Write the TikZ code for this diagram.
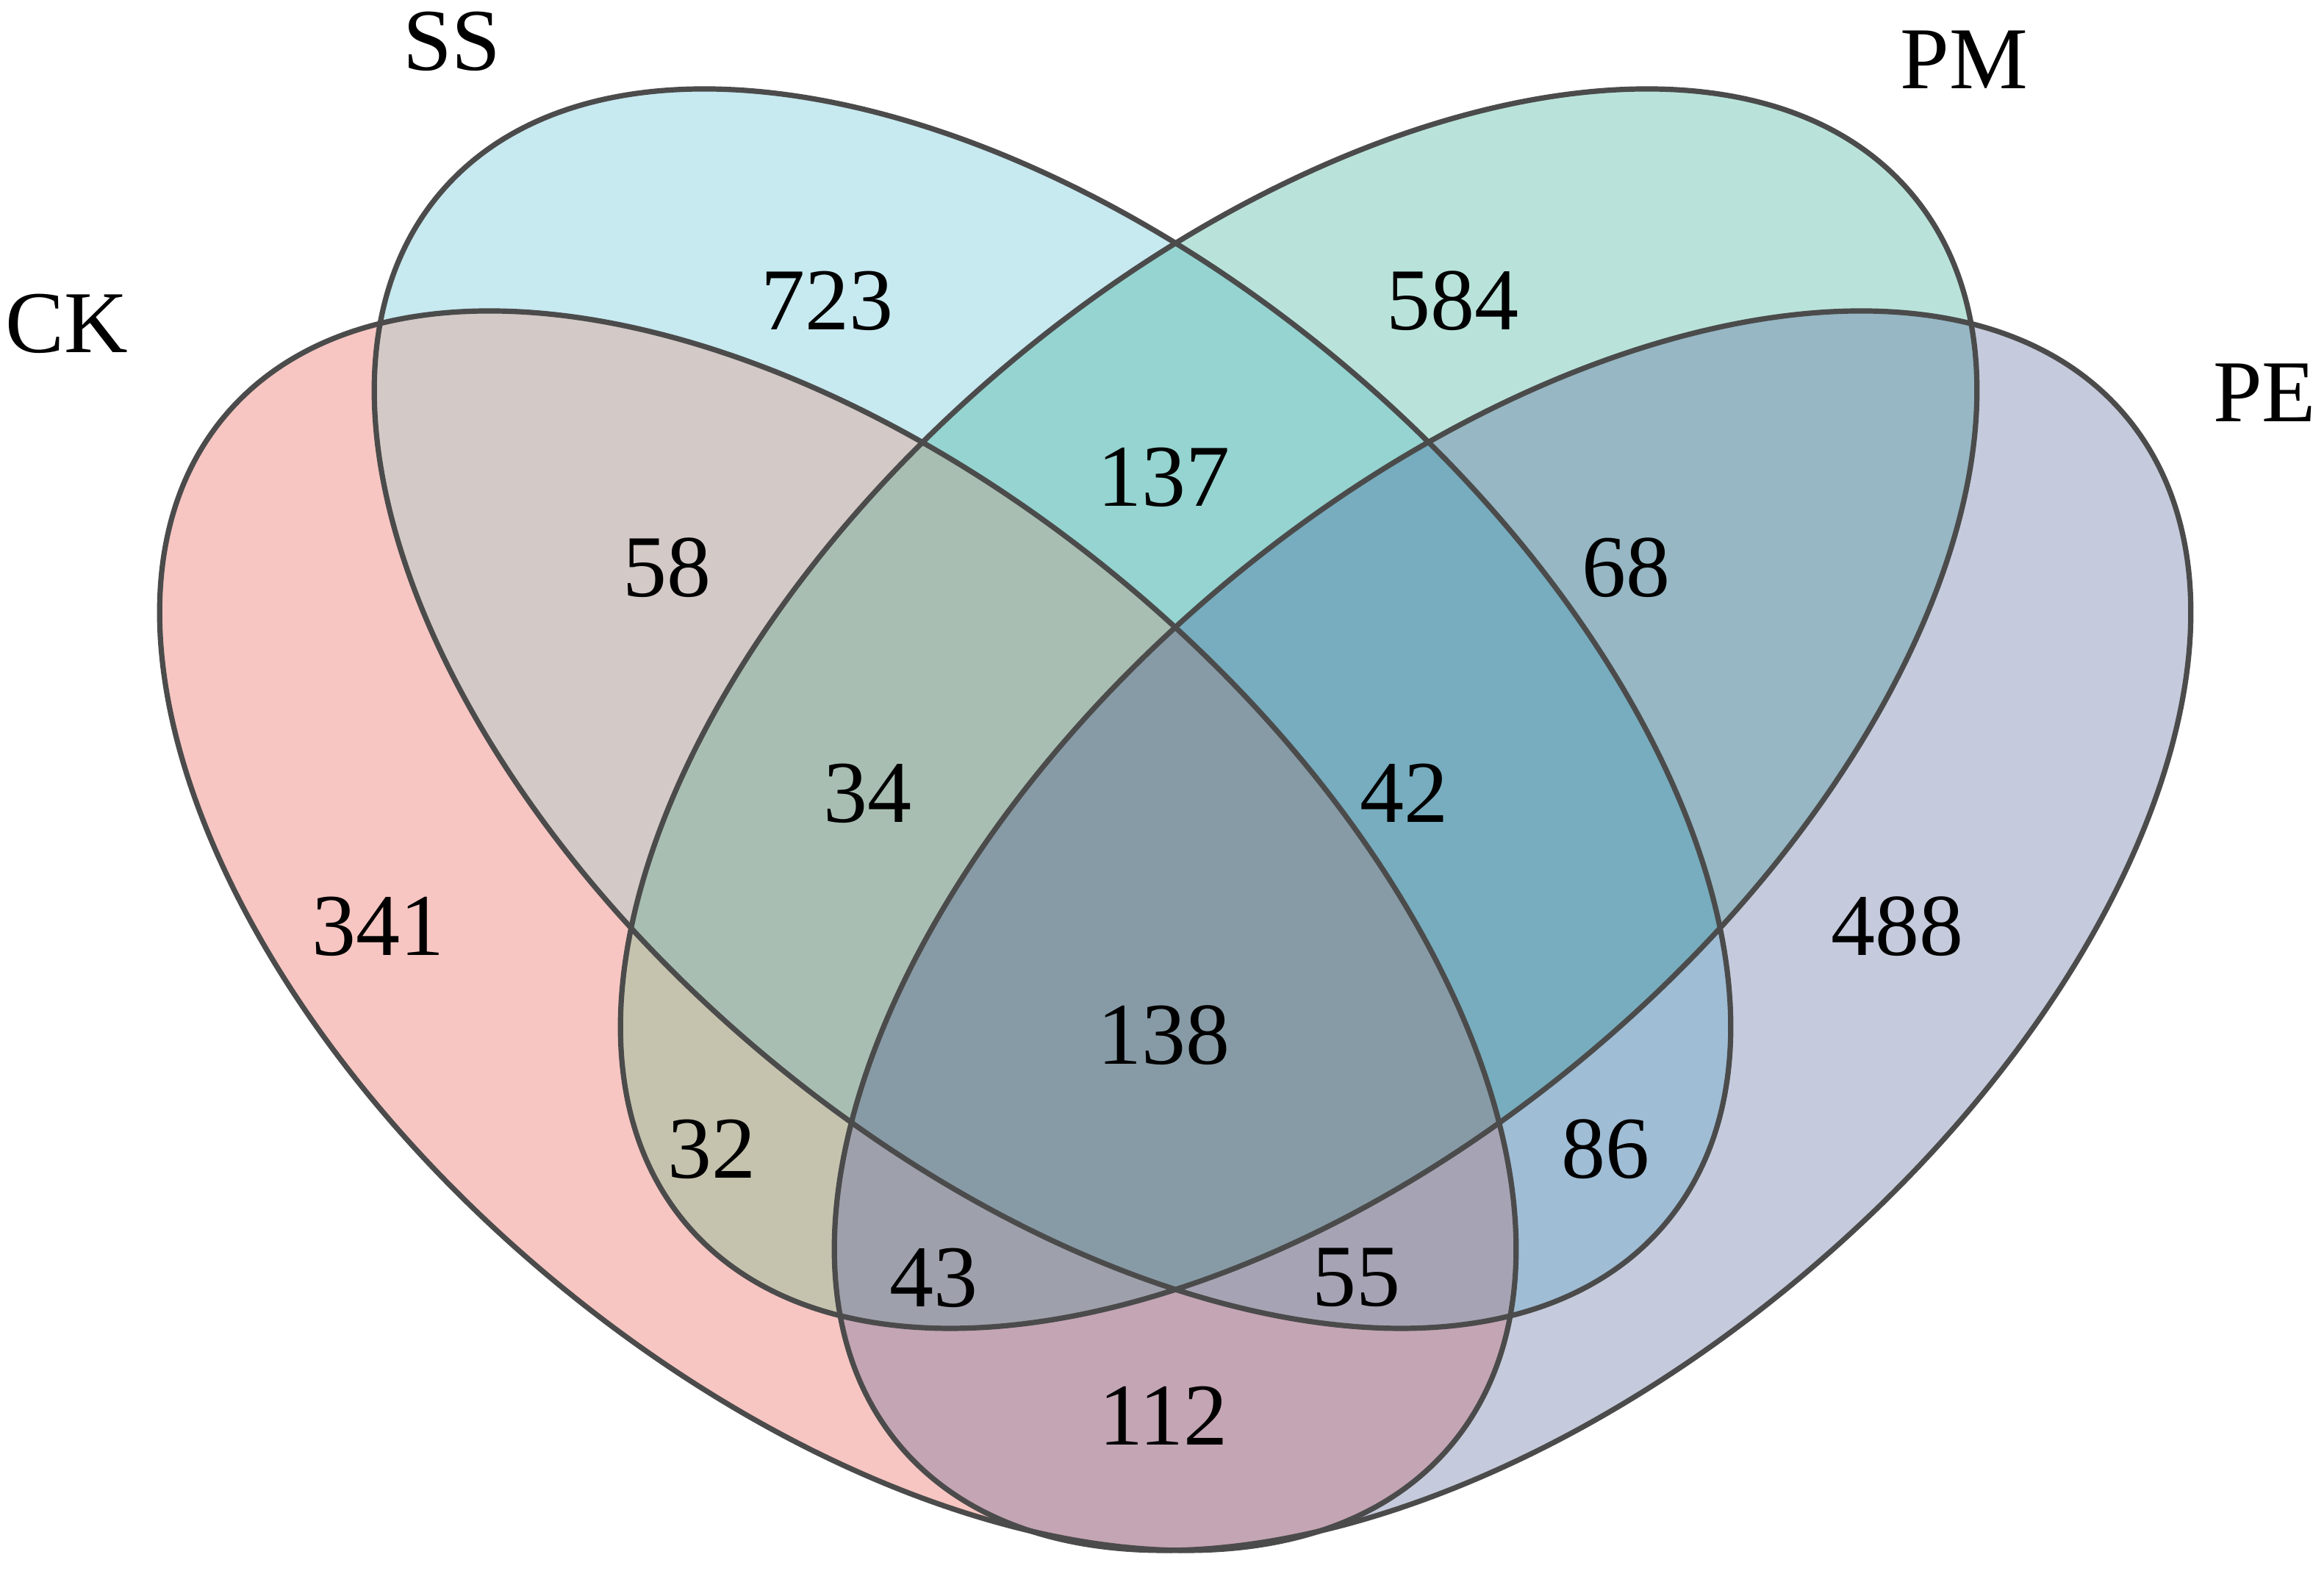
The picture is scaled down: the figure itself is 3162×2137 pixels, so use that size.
\documentclass[tikz,border=0pt]{standalone}
\usepackage{fontspec}
\setmainfont{Liberation Serif}
% single-set colours
\definecolor{cA}{RGB}{247,198,194}   % CK
\definecolor{cB}{RGB}{199,233,240}   % SS
\definecolor{cC}{RGB}{185,227,218}   % PM
\definecolor{cD}{RGB}{197,203,220}   % PE
% pairs
\definecolor{cAB}{RGB}{211,201,198}
\definecolor{cBC}{RGB}{149,212,208}
\definecolor{cCD}{RGB}{150,183,195}
\definecolor{cAD}{RGB}{196,165,180}
\definecolor{cAC}{RGB}{197,195,174}
\definecolor{cBD}{RGB}{159,189,213}
% triples
\definecolor{cABC}{RGB}{168,190,178}
\definecolor{cBCD}{RGB}{119,173,190}
\definecolor{cACD}{RGB}{158,160,171}
\definecolor{cABD}{RGB}{166,164,180}
% all
\definecolor{cABCD}{RGB}{135,155,166}
\definecolor{linec}{RGB}{75,75,75}
\begin{document}
\begin{tikzpicture}[x=0.25pt,y=0.25pt,
  setline/.style={draw=linec, line width=1.8pt},
  num/.style={font=\fontsize{30}{36}\selectfont, inner sep=0pt, anchor=center, text=black},
  lab/.style={font=\fontsize{30}{36}\selectfont, inner sep=0pt, anchor=center, text=black}
]
\useasboundingbox (0,0) rectangle (3162,2137);
\fill[white] (0,0) rectangle (3162,2137);
\coordinate (cCK) at (1140,871);
\coordinate (cSS) at (1432,1173);
\coordinate (cPM) at (1767,1173);
\coordinate (cPE) at (2058,871);
\tikzset{ellL/.style={x radius=272.25pt, y radius=153.25pt, rotate=-40},
         ellR/.style={x radius=272.25pt, y radius=153.25pt, rotate=40},
         eCK/.style={insert path={(cCK) ellipse [ellL]}},
         eSS/.style={insert path={(cSS) ellipse [ellL]}},
         ePM/.style={insert path={(cPM) ellipse [ellR]}},
         ePE/.style={insert path={(cPE) ellipse [ellR]}}}
% single sets
\fill[cA, eCK];
\fill[cB, eSS];
\fill[cC, ePM];
\fill[cD, ePE];
% pairs
\begin{scope}\clip[eCK]; \fill[cAB, eSS]; \end{scope}
\begin{scope}\clip[eSS]; \fill[cBC, ePM]; \end{scope}
\begin{scope}\clip[ePM]; \fill[cCD, ePE]; \end{scope}
\begin{scope}\clip[eCK]; \fill[cAD, ePE]; \end{scope}
\begin{scope}\clip[eCK]; \fill[cAC, ePM]; \end{scope}
\begin{scope}\clip[eSS]; \fill[cBD, ePE]; \end{scope}
% triples
\begin{scope}\clip[eCK]; \clip[eSS]; \fill[cABC, ePM]; \end{scope}
\begin{scope}\clip[eSS]; \clip[ePM]; \fill[cBCD, ePE]; \end{scope}
\begin{scope}\clip[eCK]; \clip[ePM]; \fill[cACD, ePE]; \end{scope}
\begin{scope}\clip[eCK]; \clip[eSS]; \fill[cABD, ePE]; \end{scope}
% all four
\begin{scope}\clip[eCK]; \clip[eSS]; \clip[ePM]; \fill[cABCD, ePE]; \end{scope}
% outlines
\path[setline, eCK];
\path[setline, eSS];
\path[setline, ePM];
\path[setline, ePE];
% set labels
\node[lab] (lSS) at (615,2081) {SS};
\node[lab] (lPM) at (2672,2056) {PM};
\node[lab] (lCK) at (91,1697) {CK};
\node[lab] (lPE) at (3081,1603) {PE};
% counts
\node[num] (n723) at (1125,1728) {723};
\node[num] (n584) at (1976,1728) {584};
\node[num] (n137) at (1583,1488) {137};
\node[num] (n58) at (907,1365) {58};
\node[num] (n68) at (2212,1365) {68};
\node[num] (n34) at (1180,1058) {34};
\node[num] (n42) at (1910,1058) {42};
\node[num] (n341) at (514,877) {341};
\node[num] (n488) at (2581,877) {488};
\node[num] (n138) at (1583,729) {138};
\node[num] (n32) at (968,574) {32};
\node[num] (n86) at (2184,574) {86};
\node[num] (n43) at (1270,399) {43};
\node[num] (n55) at (1845,399) {55};
\node[num] (n112) at (1583,211) {112};
\end{tikzpicture}
\end{document}
